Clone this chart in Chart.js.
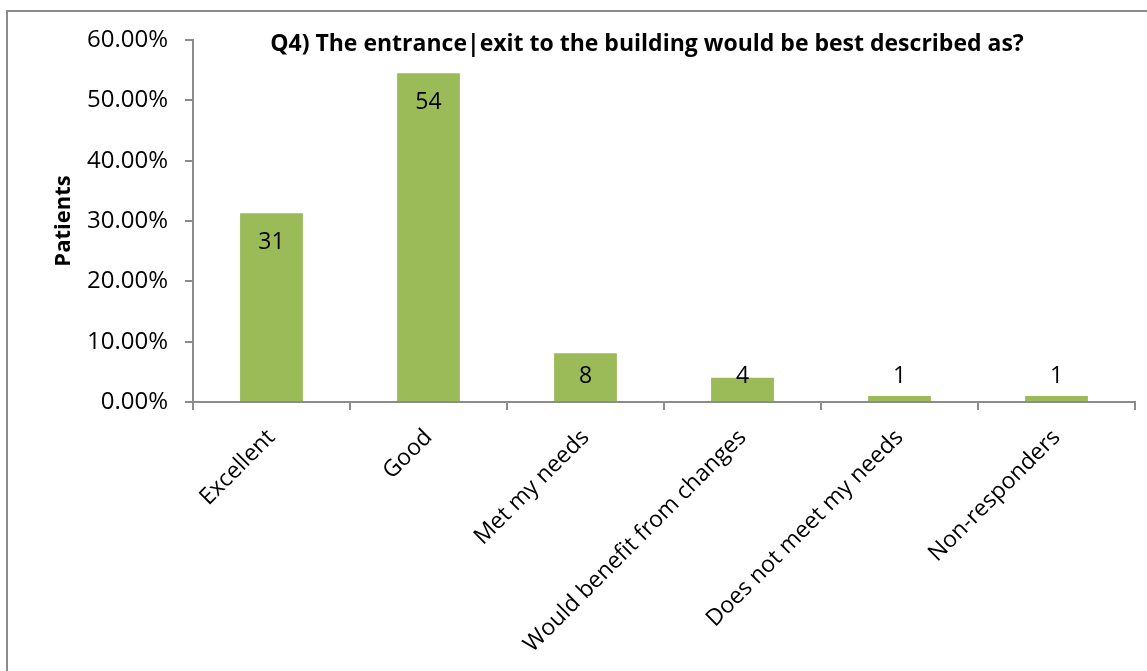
<!DOCTYPE html>
<html>
<head>
<meta charset="utf-8">
<script src="https://cdn.jsdelivr.net/npm/chart.js@4.4.0/dist/chart.umd.min.js"></script>
<style>
  html, body { margin: 0; padding: 0; background: #fff; overflow: hidden; }
  #frame {
    position: absolute; left: 6px; top: 10px; width: 1200px; height: 700px;
    border: 2px solid #8c8c8c; box-sizing: border-box;
  }
  #wrap { position: absolute; left: 0; top: 0; width: 1147px; height: 671px; }
</style>
</head>
<body>
<div id="frame"></div>
<div id="wrap"><canvas id="chart"></canvas></div>
<script>
const categories = ['Excellent', 'Good', 'Met my needs', 'Would benefit from changes', 'Does not meet my needs', 'Non-responders'];
const percentValues = [31.3, 54.5, 8.1, 4.0, 1.0, 1.0];
const countLabels = ['31', '54', '8', '4', '1', '1'];
const yTicks = [0, 10, 20, 30, 40, 50, 60];

const chartTitle = 'Q4) The entrance|exit to the building would be best described as?';
const fontFamily = '"Open Sans", "Noto Sans", sans-serif';
const axisColor = '#8c8c8c';

// counts drawn near the top of each bar, kept above the axis for small bars
const barLabels = {
    id: 'barLabels',
    afterDatasetsDraw(chart) {
        const ctx = chart.ctx;
        const meta = chart.getDatasetMeta(0);
        ctx.save();
        ctx.font = '23px ' + fontFamily;
        ctx.fillStyle = '#000';
        ctx.textAlign = 'center';
        ctx.textBaseline = 'middle';
        meta.data.forEach(function (bar, i) {
            let y = Math.min(bar.y + 29, bar.base - 25);
            ctx.fillText(countLabels[i], bar.x, y);
        });
        ctx.restore();
    }
};

// title overlaps the plot area like the original
const overlayTitle = {
    id: 'overlayTitle',
    afterDraw(chart) {
        const ctx = chart.ctx;
        const area = chart.chartArea;
        ctx.save();
        ctx.font = 'bold 23px ' + fontFamily;
        ctx.fillStyle = '#000';
        ctx.textAlign = 'center';
        ctx.textBaseline = 'middle';
        ctx.fillText(chartTitle, area.left + 454, area.top + 4);
        ctx.restore();
    }
};

const ctx = document.getElementById('chart');
new Chart(ctx, {
    type: 'bar',
    data: {
        labels: categories,
        datasets: [{
            label: 'Patients',
            data: percentValues,
            backgroundColor: '#9bbb59',
            borderWidth: 0,
            categoryPercentage: 1.0,
            barPercentage: 0.4
        }]
    },
    options: {
        responsive: true,
        maintainAspectRatio: false,
        animation: false,
        layout: {
            padding: { top: 40, right: 12, bottom: 0, left: 0 }
        },
        plugins: {
            legend: { display: false },
            tooltip: { enabled: false },
            title: { display: false }
        },
        scales: {
            x: {
                grid: {
                    display: true,
                    drawOnChartArea: false,
                    offset: true,
                    color: axisColor,
                    tickLength: 8,
                    lineWidth: 2
                },
                border: { color: axisColor, width: 2 },
                ticks: {
                    color: '#000',
                    font: { family: fontFamily, size: 23 },
                    maxRotation: 45,
                    minRotation: 45,
                    padding: 14
                },
                afterFit: function (scale) {
                    scale.height = 269;
                }
            },
            y: {
                min: 0,
                max: 60,
                afterBuildTicks: function (scale) {
                    scale.ticks = yTicks.map(v => ({ value: v }));
                },
                grid: {
                    display: true,
                    drawOnChartArea: false,
                    color: axisColor,
                    tickLength: 8,
                    lineWidth: 2
                },
                border: { color: axisColor, width: 2 },
                ticks: {
                    color: '#000',
                    font: { family: fontFamily, size: 24 },
                    padding: 17,
                    callback: function (value) {
                        return value.toFixed(2) + '%';
                    }
                },
                title: {
                    display: true,
                    text: 'Patients',
                    color: '#000',
                    font: { family: fontFamily, size: 22, weight: 'bold' },
                    padding: { top: 51, bottom: 0 }
                },
                afterFit: function (scale) {
                    scale.width = 193;
                }
            }
        }
    },
    plugins: [barLabels, overlayTitle]
});
</script>
</body>
</html>
